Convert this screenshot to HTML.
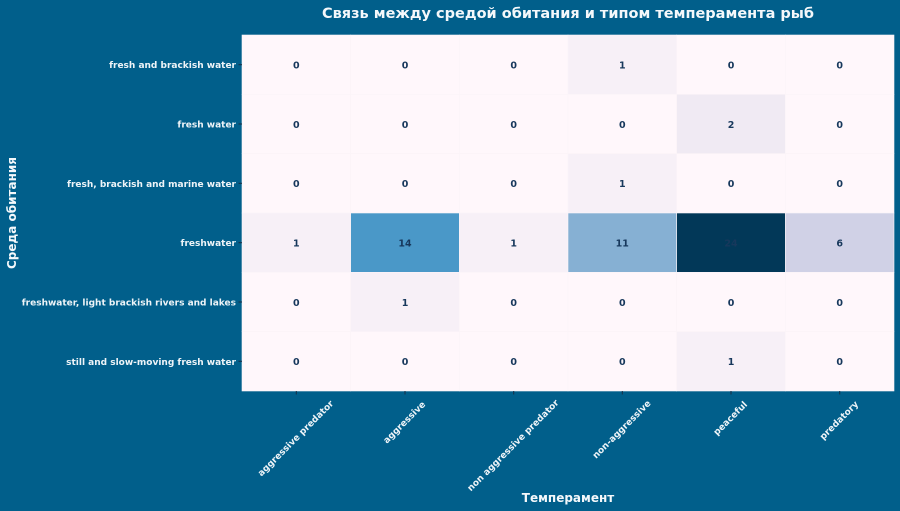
<!DOCTYPE html>
<html><head><meta charset="utf-8"><style>
html,body{margin:0;padding:0;background:#015f8b;}
svg{display:block;font-family:"DejaVu Sans","Liberation Sans",sans-serif;}
</style></head><body>
<svg width="900" height="511" viewBox="0 0 900 511" xmlns="http://www.w3.org/2000/svg">
<rect width="900" height="511" fill="#015f8b"/>
<text x="568" y="18" text-anchor="middle" font-size="14.5" font-weight="bold" fill="#f4f8fb">Связь между средой обитания и типом темперамента рыб</text>
<g stroke="#fbf4f8" stroke-width="0.6">
<rect x="242" y="35" width="108.67" height="59.33" fill="#fff7fb"/>
<rect x="350.67" y="35" width="108.67" height="59.33" fill="#fff7fb"/>
<rect x="459.33" y="35" width="108.67" height="59.33" fill="#fff7fb"/>
<rect x="568" y="35" width="108.67" height="59.33" fill="#f7f0f7"/>
<rect x="676.67" y="35" width="108.67" height="59.33" fill="#fff7fb"/>
<rect x="785.33" y="35" width="108.67" height="59.33" fill="#fff7fb"/>
<rect x="242" y="94.33" width="108.67" height="59.33" fill="#fff7fb"/>
<rect x="350.67" y="94.33" width="108.67" height="59.33" fill="#fff7fb"/>
<rect x="459.33" y="94.33" width="108.67" height="59.33" fill="#fff7fb"/>
<rect x="568" y="94.33" width="108.67" height="59.33" fill="#fff7fb"/>
<rect x="676.67" y="94.33" width="108.67" height="59.33" fill="#f0eaf3"/>
<rect x="785.33" y="94.33" width="108.67" height="59.33" fill="#fff7fb"/>
<rect x="242" y="153.67" width="108.67" height="59.33" fill="#fff7fb"/>
<rect x="350.67" y="153.67" width="108.67" height="59.33" fill="#fff7fb"/>
<rect x="459.33" y="153.67" width="108.67" height="59.33" fill="#fff7fb"/>
<rect x="568" y="153.67" width="108.67" height="59.33" fill="#f7f0f7"/>
<rect x="676.67" y="153.67" width="108.67" height="59.33" fill="#fff7fb"/>
<rect x="785.33" y="153.67" width="108.67" height="59.33" fill="#fff7fb"/>
<rect x="242" y="213" width="108.67" height="59.33" fill="#f7f0f7"/>
<rect x="350.67" y="213" width="108.67" height="59.33" fill="#4a98c8"/>
<rect x="459.33" y="213" width="108.67" height="59.33" fill="#f7f0f7"/>
<rect x="568" y="213" width="108.67" height="59.33" fill="#86b0d3"/>
<rect x="676.67" y="213" width="108.67" height="59.33" fill="#023858"/>
<rect x="785.33" y="213" width="108.67" height="59.33" fill="#d0d1e6"/>
<rect x="242" y="272.33" width="108.67" height="59.33" fill="#fff7fb"/>
<rect x="350.67" y="272.33" width="108.67" height="59.33" fill="#f7f0f7"/>
<rect x="459.33" y="272.33" width="108.67" height="59.33" fill="#fff7fb"/>
<rect x="568" y="272.33" width="108.67" height="59.33" fill="#fff7fb"/>
<rect x="676.67" y="272.33" width="108.67" height="59.33" fill="#fff7fb"/>
<rect x="785.33" y="272.33" width="108.67" height="59.33" fill="#fff7fb"/>
<rect x="242" y="331.67" width="108.67" height="59.33" fill="#fff7fb"/>
<rect x="350.67" y="331.67" width="108.67" height="59.33" fill="#fff7fb"/>
<rect x="459.33" y="331.67" width="108.67" height="59.33" fill="#fff7fb"/>
<rect x="568" y="331.67" width="108.67" height="59.33" fill="#fff7fb"/>
<rect x="676.67" y="331.67" width="108.67" height="59.33" fill="#f7f0f7"/>
<rect x="785.33" y="331.67" width="108.67" height="59.33" fill="#fff7fb"/>
</g>
<g font-size="9.5" font-weight="bold" fill="#17385c" text-anchor="middle">
<g transform="translate(0,68.5)"><text x="296.3">0</text><text x="405">0</text><text x="513.7">0</text><text x="622.3">1</text><text x="731">0</text><text x="839.7">0</text></g>
<g transform="translate(0,127.8)"><text x="296.3">0</text><text x="405">0</text><text x="513.7">0</text><text x="622.3">0</text><text x="731">2</text><text x="839.7">0</text></g>
<g transform="translate(0,187.2)"><text x="296.3">0</text><text x="405">0</text><text x="513.7">0</text><text x="622.3">1</text><text x="731">0</text><text x="839.7">0</text></g>
<g transform="translate(0,246.5)"><text x="296.3">1</text><text x="405">14</text><text x="513.7">1</text><text x="622.3">11</text><text x="731">24</text><text x="839.7">6</text></g>
<g transform="translate(0,305.8)"><text x="296.3">0</text><text x="405">1</text><text x="513.7">0</text><text x="622.3">0</text><text x="731">0</text><text x="839.7">0</text></g>
<g transform="translate(0,365.2)"><text x="296.3">0</text><text x="405">0</text><text x="513.7">0</text><text x="622.3">0</text><text x="731">1</text><text x="839.7">0</text></g>
</g>
<g stroke="#1a2f45" stroke-width="1">
<line x1="238.5" y1="64.7" x2="242" y2="64.7"/><line x1="238.5" y1="124" x2="242" y2="124"/><line x1="238.5" y1="183.3" x2="242" y2="183.3"/>
<line x1="238.5" y1="242.7" x2="242" y2="242.7"/><line x1="238.5" y1="302" x2="242" y2="302"/><line x1="238.5" y1="361.3" x2="242" y2="361.3"/>
<line x1="296.3" y1="391" x2="296.3" y2="394.5"/><line x1="405" y1="391" x2="405" y2="394.5"/><line x1="513.7" y1="391" x2="513.7" y2="394.5"/>
<line x1="622.3" y1="391" x2="622.3" y2="394.5"/><line x1="731" y1="391" x2="731" y2="394.5"/><line x1="839.7" y1="391" x2="839.7" y2="394.5"/>
</g>
<g font-size="9" font-weight="bold" fill="#eef4f8" text-anchor="end">
<text x="236" y="68.2">fresh and brackish water</text>
<text x="236" y="127.5">fresh water</text>
<text x="236" y="186.8">fresh, brackish and marine water</text>
<text x="236" y="246.2">freshwater</text>
<text x="236" y="305.5">freshwater, light brackish rivers and lakes</text>
<text x="236" y="364.8">still and slow-moving fresh water</text>
</g>
<g font-size="9" font-weight="bold" fill="#eef4f8" text-anchor="middle" dominant-baseline="central">
<text transform="translate(296.3,439) rotate(-45)">aggressive predator</text>
<text transform="translate(405,423) rotate(-45)">aggressive</text>
<text transform="translate(513.7,446) rotate(-45)">non aggressive predator</text>
<text transform="translate(622.3,430) rotate(-45)">non-aggressive</text>
<text transform="translate(731,419) rotate(-45)">peaceful</text>
<text transform="translate(839.7,421) rotate(-45)">predatory</text>
</g>
<text x="568" y="502" text-anchor="middle" font-size="12" font-weight="bold" fill="#f4f8fb">Темперамент</text>
<text transform="translate(16,213) rotate(-90)" text-anchor="middle" font-size="12" font-weight="bold" fill="#f4f8fb">Среда обитания</text>
</svg>
</body></html>
